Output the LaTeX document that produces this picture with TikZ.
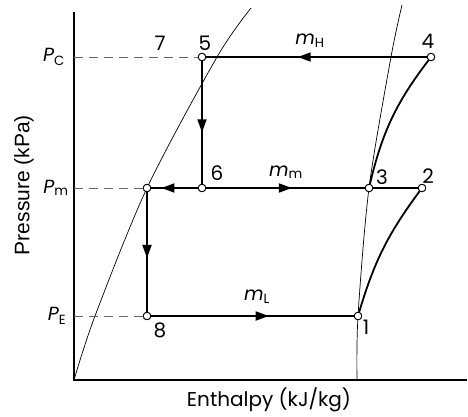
\documentclass[tikz,border=0pt]{standalone}
\usepackage{fontspec}
\setmainfont{Poppins}
\newfontfamily\ylabfont{Liberation Sans}
\usetikzlibrary{decorations.markings,arrows.meta}
\tikzset{
  pt/.style={circle,draw,fill=white,inner sep=0pt,minimum size=7.5pt,line width=0.8pt},
  flow/.style={line width=1.8pt},
  thin curve/.style={line width=0.7pt},
  guide/.style={dashed,dash pattern=on 9pt off 6pt,gray!80!black,line width=0.9pt},
  marr/.style={postaction={decorate},decoration={markings,mark=at position #1 with {\arrow{Triangle[length=13pt,width=9pt]}}}},
  lbl/.style={font=\fontsize{20}{20}\selectfont,inner sep=0pt},
  plbl/.style={font=\fontsize{19}{19}\selectfont,inner sep=0pt}
}
\begin{document}
\begin{tikzpicture}[x=1pt,y=-1pt]
\useasboundingbox (0,0) rectangle (468,416);
% axes
\coordinate (origin) at (74,380);
\coordinate (ytop) at (74,12);
\coordinate (xend) at (467,380);
\draw[line width=1.2pt] (ytop) -- (origin) -- (xend);
% saturation curves
\draw[thin curve] plot[smooth] coordinates {(74,380) (95,316) (147,188) (217,57) (251,8)};
\draw[thin curve] plot[smooth] coordinates {(357,380) (358,316) (369,188) (391,57) (402,5)};
% state points
\node[pt] (p5) at (202,57) {};
\node[pt] (p4) at (431,57) {};
\node[pt] (p6) at (202,188) {};
\node[pt] (pa) at (147,188) {};
\node[pt] (p3) at (369,188) {};
\node[pt] (p2) at (422,188) {};
\node[pt] (p8) at (147,316) {};
\node[pt] (p1) at (358,316) {};
% axis ticks coordinates
\coordinate (yc) at (74,57);
\coordinate (ym) at (74,188);
\coordinate (ye) at (74,316);
\draw[guide] (yc) -- (p5);
\draw[guide] (ym) -- (pa);
\draw[guide] (ye) -- (p8);
% flows
\draw[flow,marr=0.585] (p4) -- (p5);
\draw[flow,marr=0.58] (p5) -- (p6);
\draw[flow,marr=0.78] (p6) -- (pa);
\draw[flow,marr=0.54] (p6) -- (p3);
\draw[flow] (p3) -- (p2);
\draw[flow,marr=0.55] (pa) -- (p8);
\draw[flow,marr=0.58] (p8) -- (p1);
\draw[flow] (p1) to[bend left=10] (p2);
\draw[flow] (p3) to[bend left=12] (p4);
% redraw points on top
\foreach \n in {p5,p4,p6,pa,p3,p2,p8,p1} \node[pt] at (\n) {};
% labels
\node[lbl] (l7) at (160,43) {7};
\node[lbl] (l5) at (205,43) {5};
\node[lbl] (l4) at (428,41) {4};
\node[lbl] (l6) at (217,173) {6};
\node[lbl] (l3) at (382,177) {3};
\node[lbl] (l2) at (428,176) {2};
\node[lbl] (l8) at (160,330) {8};
\node[lbl] (l1) at (366,327) {1};
\node[plbl] (lpc) at (54,57) {\textit{P}\textsubscript{C}};
\node[plbl] (lpm) at (56,188) {\textit{P}\textsubscript{m}};
\node[plbl] (lpe) at (57,316) {\textit{P}\textsubscript{E}};
\node[plbl] (lmh) at (310,41) {\textit{m}\textsubscript{H}};
\node[plbl] (lmm) at (286,172) {\textit{m}\textsubscript{m}};
\node[plbl] (lml) at (257,297) {\textit{m}\textsubscript{L}};
\node[inner sep=0pt,rotate=90,font=\ylabfont\fontsize{21}{21}\selectfont] (ylab) at (24,185) {Pressure (kPa)};
\node[lbl] (xlab) at (269,400) {Enthalpy (kJ/kg)};
\end{tikzpicture}
\end{document}
